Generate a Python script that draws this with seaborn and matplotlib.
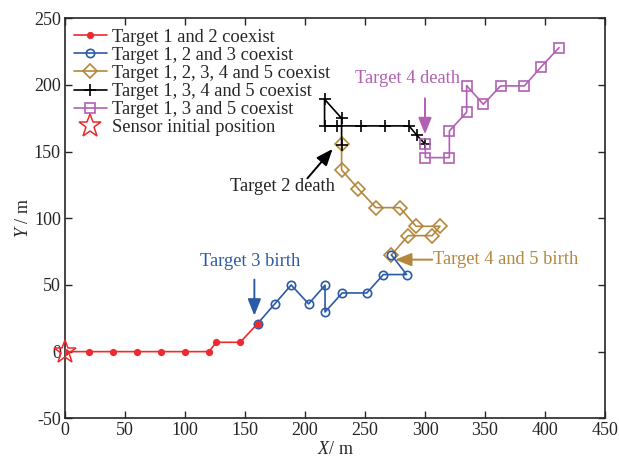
import matplotlib
matplotlib.use("Agg")
import matplotlib.pyplot as plt
import seaborn as sns
import pandas as pd

# Trajectory segments (x, y in metres)
red_x = [0, 20, 40, 60, 80, 100, 120, 126, 146, 160.5]
red_y = [0, 0, 0, 0, 0, 0, 0, 7, 7, 21]

blue_x = [160.5, 175, 188.5, 203, 216.7, 216.7, 231, 251.5, 265.3, 284.7, 272]
blue_y = [21, 36, 50, 35.8, 49.8, 29.7, 44, 44, 57.8, 57.8, 72.5]

brown_x = [272, 286, 306, 312.5, 292.5, 279, 259, 244.5, 230.5, 230.5]
brown_y = [72.5, 87, 87, 94, 94, 108, 108, 122, 136.3, 156]

black_x = [230.5, 230.5, 216.3, 216.3, 226.5, 246.8, 266.7, 286.7, 293, 300.3]
black_y = [155, 175, 189.3, 169.3, 169.3, 169.3, 169.3, 169.3, 162.5, 155.5]

purple_x = [300.3, 300.3, 320.3, 320.3, 334.7, 334.7, 348.6, 363, 382.8, 397, 411.7]
purple_y = [155.5, 145.5, 145.5, 165.5, 179.5, 199.5, 185.5, 199.3, 199.3, 213.8, 228]

sensor_x = [0]
sensor_y = [0]

labels = [
    "Target 1 and 2 coexist",
    "Target 1, 2 and 3 coexist",
    "Target 1, 2, 3, 4 and 5 coexist",
    "Target 1, 3, 4 and 5 coexist",
    "Target 1, 3 and 5 coexist",
    "Sensor initial position",
]

RED = "#ee2a2f"
BLUE = "#2b5aa8"
BROWN = "#b5873c"
BLACK = "#000000"
PURPLE = "#b160b4"

sns.set_style("ticks")
plt.rcParams["font.family"] = ["Liberation Serif", "DejaVu Serif"]
plt.rcParams["mathtext.fontset"] = "custom"
plt.rcParams["mathtext.it"] = "Liberation Serif:italic"
plt.rcParams["mathtext.rm"] = "Liberation Serif"
plt.rcParams["axes.unicode_minus"] = False

fig = plt.figure(figsize=(6.19, 4.62), dpi=100)
ax = fig.add_axes([0.105, 0.0946, 0.8724, 0.8658])

series = [
    (red_x, red_y, RED, "o", 4, True, labels[0], 6),
    (blue_x, blue_y, BLUE, "o", 6, False, labels[1], 4),
    (brown_x, brown_y, BROWN, "D", 7, False, labels[2], 3),
    (black_x, black_y, BLACK, "+", 9, False, labels[3], 3),
    (purple_x, purple_y, PURPLE, "s", 6.5, False, labels[4], 3),
]

for xs, ys, col, mk, ms, filled, lab, z in series:
    df = pd.DataFrame({"x": xs, "y": ys})
    sns.lineplot(
        data=df, x="x", y="y", sort=False, estimator=None, ax=ax,
        color=col, linewidth=1.2, marker=mk, markersize=ms,
        markerfacecolor=col if filled else "none",
        markeredgecolor=col, markeredgewidth=1.2,
        label=lab, zorder=z,
    )

sdf = pd.DataFrame({"x": sensor_x, "y": sensor_y})
sns.lineplot(
    data=sdf, x="x", y="y", ax=ax, color=RED, linestyle="none",
    marker="*", markersize=17, markerfacecolor="none",
    markeredgecolor=RED, markeredgewidth=1.1, label=labels[5], zorder=7,
    clip_on=False,
)

ax.set_xlim(0, 450)
ax.set_ylim(-50, 250)
ax.set_xticks(range(0, 451, 50))
ax.set_yticks(range(-50, 251, 50))
ax.tick_params(direction="in", top=True, right=True, length=5, width=1,
               labelsize=13, pad=3)
for sp in ax.spines.values():
    sp.set_linewidth(1.2)
    sp.set_visible(True)

ax.set_xlabel(r"$X$/ m", fontsize=13, labelpad=1)
ax.set_ylabel(r"$Y$ / m", fontsize=13, labelpad=1)

leg = ax.legend(loc="upper left", bbox_to_anchor=(0.0, 0.997), frameon=False,
                fontsize=13.3, handlelength=1.75, handletextpad=0.3,
                labelspacing=0.06, borderaxespad=0.3, borderpad=0.2)

arrow_kw = dict(arrowstyle="-|>,head_length=1.0,head_width=0.4", lw=1.4,
                shrinkA=0, shrinkB=0)

ax.annotate("", xy=(157.8, 27), xytext=(157.8, 54),
            arrowprops=dict(color=BLUE, **arrow_kw))
ax.text(154, 67.5, "Target 3 birth", color=BLUE, fontsize=13.3,
        ha="center", va="center")

ax.annotate("", xy=(223, 152), xytext=(202, 130),
            arrowprops=dict(color=BLACK, **arrow_kw))
ax.text(181, 123.5, "Target 2 death", color="#222222", fontsize=13.3,
        ha="center", va="center")

ax.annotate("", xy=(300, 163), xytext=(300, 190),
            arrowprops=dict(color=PURPLE, **arrow_kw))
ax.text(285, 204.5, "Target 4 death", color=PURPLE, fontsize=13.3,
        ha="center", va="center")

ax.annotate("", xy=(275, 69), xytext=(306, 69),
            arrowprops=dict(color=BROWN, **arrow_kw))
ax.text(307, 69, "Target 4 and 5 birth", color=BROWN, fontsize=13.3,
        ha="left", va="center")

fig.savefig("out.png", dpi=100)
